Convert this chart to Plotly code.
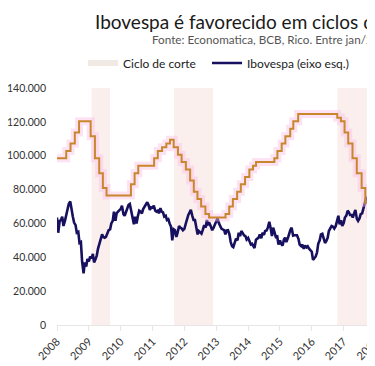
import numpy as np
import pandas as pd
import plotly.graph_objects as go

# ---------------- data ----------------
title_text = "Ibovespa é favorecido em ciclos de corte da Selic"
subtitle_text = "Fonte: Economatica, BCB, Rico. Entre jan/2008 e jul/2018."

# Ibovespa, semi-monthly (1st and 15th), thousands of points
ibov_k = [
    # 2008
    63.5, 54.5, 61.5, 62.0, 64.0, 58.5, 61.5, 64.5, 68.5, 71.5, 73.0, 68.0,
    64.0, 60.5, 59.0, 54.5, 55.0, 48.5, 49.0, 37.5, 30.5, 37.0, 34.5, 39.0,
    # 2009
    37.5, 40.5, 39.3, 42.0, 37.0, 38.5, 41.0, 45.0, 47.5, 50.0, 53.5, 52.0,
    51.5, 52.0, 55.0, 56.0, 56.5, 60.0, 61.5, 67.0, 61.5, 66.0, 67.0, 68.0,
    # 2010
    68.6, 70.5, 65.5, 64.5, 67.0, 69.0, 71.0, 71.5, 67.5, 63.0, 59.5, 64.0,
    60.0, 64.0, 67.5, 67.0, 66.0, 68.5, 70.0, 71.5, 72.5, 71.0, 68.0, 69.5,
    # 2011
    69.3, 70.5, 67.5, 67.0, 67.5, 66.0, 69.0, 67.0, 66.5, 64.0, 64.5, 62.0,
    62.5, 60.0, 58.0, 50.0, 56.5, 56.0, 52.0, 54.5, 58.5, 57.5, 57.0, 56.0,
    # 2012
    56.8, 59.5, 63.0, 65.0, 66.5, 68.0, 64.5, 62.0, 62.0, 57.0, 53.5, 55.5,
    54.5, 54.0, 56.5, 59.0, 57.5, 62.0, 59.5, 60.0, 58.0, 56.0, 57.5, 59.5,
    # 2013
    61.0, 63.0, 60.0, 58.0, 57.0, 56.5, 56.0, 53.5, 55.9, 56.0, 53.5, 49.0,
    46.5, 46.0, 48.5, 51.0, 50.0, 54.5, 52.5, 55.5, 54.3, 53.0, 52.5, 50.5,
    # 2014
    51.5, 49.5, 47.6, 48.0, 47.1, 45.5, 50.4, 51.0, 51.6, 53.5, 51.2, 54.5,
    53.2, 55.5, 55.8, 57.5, 61.0, 57.5, 52.5, 57.5, 54.6, 52.0, 52.3, 47.5,
    # 2015
    50.0, 48.0, 46.9, 50.5, 51.6, 49.0, 51.2, 54.0, 56.2, 57.5, 52.8, 53.0,
    53.1, 53.0, 50.9, 47.5, 46.6, 47.5, 45.0, 47.0, 45.9, 46.5, 45.1, 44.5,
    # 2016
    43.3, 38.5, 40.0, 40.5, 42.8, 48.0, 50.0, 53.5, 53.9, 51.5, 48.5, 49.5,
    51.5, 55.5, 57.3, 58.5, 58.0, 57.0, 58.4, 61.5, 64.5, 59.5, 61.9, 58.5,
    # 2017
    60.2, 63.5, 64.7, 67.5, 66.7, 65.0, 65.0, 63.5, 65.4, 68.0, 62.7, 61.5,
    62.9, 65.5, 65.9, 68.5, 71.5, 75.0, 74.3, 76.0, 74.3, 71.5, 72.0, 73.5,
    # 2018
    76.4, 79.5, 84.9, 84.0, 85.4, 84.9, 85.4, 84.5, 86.1, 85.5, 76.8, 71.5,
    72.8, 76.5, 79.2,
]

# Selic target rate (% a.a.) — COPOM decision dates
selic_dates = [
    "2008-01-01", "2008-04-16", "2008-06-04", "2008-07-23", "2008-09-10",
    "2009-01-21", "2009-03-11", "2009-04-29", "2009-06-10", "2009-07-22",
    "2010-04-28", "2010-06-09", "2010-07-21",
    "2011-01-19", "2011-03-02", "2011-04-20", "2011-06-08", "2011-07-20",
    "2011-08-31", "2011-10-19", "2011-11-30",
    "2012-01-18", "2012-03-07", "2012-04-18", "2012-05-30", "2012-07-11",
    "2012-08-29", "2012-10-10",
    "2013-04-17", "2013-05-29", "2013-07-10", "2013-08-28", "2013-10-09",
    "2013-11-27",
    "2014-01-15", "2014-02-26", "2014-04-02", "2014-10-29", "2014-12-03",
    "2015-01-21", "2015-03-04", "2015-04-29", "2015-06-03", "2015-07-29",
    "2016-10-19", "2016-11-30",
    "2017-01-11", "2017-02-22", "2017-04-12", "2017-05-31", "2017-07-26",
    "2017-09-06", "2017-10-25", "2017-12-06",
    "2018-02-07", "2018-03-21", "2018-08-01",
]
selic_rates = [
    11.25, 11.75, 12.25, 13.00, 13.75,
    12.75, 11.25, 10.25, 9.25, 8.75,
    9.50, 10.25, 10.75,
    11.25, 11.75, 12.00, 12.25, 12.50,
    12.00, 11.50, 11.00,
    10.50, 9.75, 9.00, 8.50, 8.00,
    7.50, 7.25,
    7.50, 8.00, 8.50, 9.00, 9.50,
    10.00,
    10.50, 10.75, 11.00, 11.25, 11.75,
    12.25, 12.75, 13.25, 13.75, 14.25,
    14.00, 13.75,
    13.00, 12.25, 11.25, 10.25, 9.25,
    8.25, 7.50, 7.00,
    6.75, 6.50, 6.50,
]

# Selic cutting cycles (shaded)
cycle_starts = ["2009-02-01", "2011-09-05", "2016-10-20"]
cycle_ends = ["2009-09-01", "2012-11-25", "2018-04-01"]

y_left_ticks = [0, 20000, 40000, 60000, 80000, 100000, 120000, 140000]
year_ticks = [str(y) for y in range(2008, 2019)]

# ---------------- figure ----------------
ibov_dates = pd.date_range("2008-01-01", "2018-08-01", freq="SMS")
assert len(ibov_dates) == len(ibov_k)
ibov = np.array(ibov_k) * 1000

OFF = 8                      # page body margin
W, H = 600, 358
L = 57 - OFF                 # plot left edge
TOP = 88 - OFF               # plot top edge
BOT = 325 - OFF              # plot bottom edge
T, B = TOP, H - BOT
PW = 337
R = W - L - PW
PH = BOT - TOP

NAVY = "#17105f"
ORANGE = "#c8872c"
BAND = "#fbefed"
FONT = "Lato"


def cy(y_page):
    return 1 - (y_page - OFF) / H


def cx(x_page):
    return (x_page - OFF) / W


def px_(x_page):
    return (x_page - OFF - L) / PW


def py_(y_page):
    return (BOT - (y_page - OFF)) / PH


fig = go.Figure()

# legend-only entry for the shaded cycles
fig.add_trace(go.Scatter(
    x=[None], y=[None], mode="lines", name="Ciclo de corte",
    line=dict(color="#f0e9e4", width=6), legend="legend",
))
fig.add_trace(go.Scatter(
    x=ibov_dates, y=ibov, mode="lines", name="Ibovespa (eixo esq.)",
    line=dict(color=NAVY, width=2.6), legend="legend2",
))
# glow under the Selic line
fig.add_trace(go.Scatter(
    x=selic_dates, y=selic_rates, mode="lines", yaxis="y2",
    line=dict(color="rgba(250,190,230,0.45)", width=8, shape="hv"),
    showlegend=False, hoverinfo="skip",
))
fig.add_trace(go.Scatter(
    x=selic_dates, y=selic_rates, mode="lines", yaxis="y2",
    name="Selic (eixo dir.)", legend="legend3",
    line=dict(color=ORANGE, width=2, shape="hv"),
))

for s, e in zip(cycle_starts, cycle_ends):
    fig.add_vrect(x0=s, x1=e, fillcolor=BAND, line_width=0, layer="below")

leg_common = dict(
    orientation="h", xref="container", xanchor="left",
    yref="container", yanchor="middle",
    font=dict(family=FONT, size=12, color="#222"),
    bgcolor="rgba(0,0,0,0)", itemwidth=30,
)

fig.update_layout(
    width=W, height=H,
    margin=dict(l=L, r=R, t=T, b=B, pad=0, autoexpand=False),
    paper_bgcolor="white", plot_bgcolor="white",
    separators=",.",
    font=dict(family=FONT, color="#333", size=11),
    title=dict(
        text=title_text, xref="container", x=cx(95), xanchor="left",
        yref="container", y=cy(22), yanchor="middle",
        font=dict(family=FONT, size=19, color="#1a1a1a"),
    ),
    legend=dict(leg_common, x=cx(123 - 40), y=cy(63)),
    legend2=dict(leg_common, x=cx(247 - 40), y=cy(63)),
    legend3=dict(leg_common, x=cx(408 - 40), y=cy(63)),
    showlegend=True,
    xaxis=dict(
        type="date", range=["2008-01-01", "2018-08-01"],
        tickmode="array",
        tickvals=[f"{y}-01-01" for y in year_ticks],
        ticktext=year_ticks,
        tickangle=-45, showgrid=False, zeroline=False,
        showline=True, linecolor="#e6e6e6", linewidth=1,
        ticks="outside", ticklen=5, tickcolor="#e6e6e6",
        tickfont=dict(size=11, color="#333"), automargin=False,
    ),
    yaxis=dict(
        range=[0, 140000], tickvals=y_left_ticks, tickformat=",.0f",
        showgrid=False, zeroline=False, showline=False,
        ticklabelstandoff=10, automargin=False,
        tickfont=dict(size=10.5, color="#333"),
    ),
    yaxis2=dict(
        range=[0, 16], overlaying="y", side="right",
        tickvals=[0, 2, 4, 6, 8, 10, 12, 14, 16], ticksuffix="%",
        showgrid=False, zeroline=False, showline=False, automargin=False,
        tickfont=dict(size=10.5, color="#333"),
    ),
    annotations=[dict(
        text=subtitle_text, xref="paper", yref="paper",
        x=px_(150), xanchor="left",
        y=py_(39), yanchor="middle",
        showarrow=False, font=dict(family=FONT, size=11.7, color="#555"),
    )],
)

fig.write_html("out.html")
